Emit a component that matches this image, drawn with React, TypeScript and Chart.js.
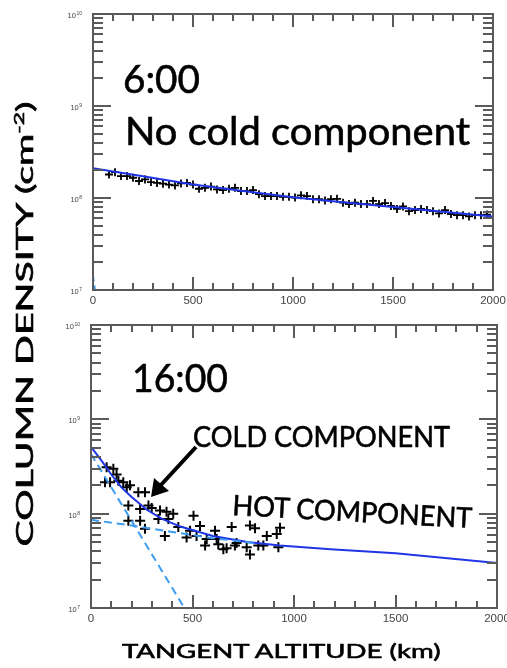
import React, { useEffect, useRef } from "react";
import { Chart, registerables } from "chart.js";
Chart.register(...registerables);

const W = 507;
const H = 668;

// ---------- Top panel (6:00) ----------
const topAltitudes = [
  80, 110, 140, 170, 200, 230, 260, 290, 320, 350, 380, 410, 440, 470, 500, 530,
  560, 590, 620, 650, 680, 710, 740, 770, 800, 830, 860, 890, 920, 950, 980, 1010,
  1040, 1070, 1100, 1130, 1160, 1190, 1220, 1250, 1280, 1310, 1340, 1370, 1400, 1430,
  1460, 1490, 1520, 1550, 1580, 1610, 1640, 1670, 1700, 1730, 1760, 1790, 1820, 1850,
  1880, 1910, 1940, 1970,
];
const topDensities = [
  1.8e8, 1.91e8, 1.73e8, 1.73e8, 1.66e8, 1.53e8, 1.59e8, 1.49e8, 1.46e8, 1.43e8, 1.4e8,
  1.37e8, 1.44e8, 1.46e8, 1.4e8, 1.26e8, 1.29e8, 1.33e8, 1.24e8, 1.22e8, 1.26e8, 1.29e8,
  1.19e8, 1.19e8, 1.22e8, 1.1e8, 1.05e8, 1.05e8, 1.05e8, 1.03e8, 1.03e8, 1.01e8, 1.07e8,
  1.05e8, 0.97e8, 0.97e8, 0.94e8, 0.97e8, 0.98e8, 0.89e8, 0.86e8, 0.89e8, 0.86e8, 0.86e8,
  0.93e8, 0.86e8, 0.88e8, 0.82e8, 0.76e8, 0.81e8, 0.72e8, 0.74e8, 0.76e8, 0.74e8, 0.72e8,
  0.68e8, 0.74e8, 0.67e8, 0.65e8, 0.65e8, 0.63e8, 0.65e8, 0.65e8, 0.66e8,
];
const topFitAltitudes = [0, 250, 500, 750, 1000, 1250, 1500, 1750, 2000];
const topFitDensities = [2.1e8, 1.72e8, 1.4e8, 1.19e8, 1.02e8, 0.9e8, 0.8e8, 0.71e8, 0.63e8];
const topColdAltitudes = [0, 10];
const topColdDensities = [1.4e7, 1.0e7];

// ---------- Bottom panel (16:00) ----------
const bottomAltitudes = [
  77, 110, 69, 94, 135, 159, 126, 192, 176, 233, 266, 184, 242, 283, 299, 184, 242, 266,
  340, 372, 405, 332, 381, 430, 505, 537, 488, 364, 471, 520, 570, 562, 611, 619, 627,
  652, 668, 693, 709, 717, 767, 783, 783, 808, 824, 849, 866, 915, 931, 923,
];
const bottomDensities = [
  3.1e8, 3.0e8, 2.15e8, 2.15e8, 2.24e8, 2.15e8, 2.6e8, 2.0e8, 1.9e8, 1.69e8, 1.69e8,
  1.22e8, 1.12e8, 1.22e8, 1.15e8, 8.4e7, 8.4e7, 6.9e7, 1.08e8, 1.05e8, 1.0e8, 8.8e7,
  8.8e7, 7.2e7, 9.5e7, 7.4e7, 6.6e7, 5.8e7, 5.6e7, 5.8e7, 5.4e7, 4.6e7, 6.6e7, 5.4e7,
  4.75e7, 4.2e7, 4.3e7, 7.2e7, 4.6e7, 4.9e7, 4.4e7, 3.7e7, 7.5e7, 7.0e7, 4.6e7, 4.6e7,
  5.8e7, 6.1e7, 7.1e7, 4.4e7,
];
const bottomFitAltitudes = [0, 50, 100, 150, 200, 275, 350, 440, 600, 770, 930, 1180, 1500, 2000];
const bottomFitDensities = [
  5.1e8, 3.7e8, 2.6e8, 1.9e8, 1.5e8, 1.1e8, 8.8e7, 7.3e7, 5.8e7, 5.0e7, 4.6e7, 4.2e7, 3.8e7, 3.0e7,
];
const coldAltitudes = [0, 460];
const coldDensities = [4.3e8, 1.0e7];
const hotAltitudes = [0, 200, 400, 600, 800];
const hotDensities = [8.6e7, 7.5e7, 6.4e7, 5.5e7, 4.9e7];

// ---------- Axes ----------
const xMin = 0;
const xMax = 2000;
const xMajorTicks = [0, 500, 1000, 1500, 2000];
const xTickLabels = ["0", "500", "1000", "1500", "2000"];
const xMinorTicks = [100, 200, 300, 400, 600, 700, 800, 900, 1100, 1200, 1300, 1400, 1600, 1700, 1800, 1900];
const yDecades = [7, 8, 9, 10];
const yMinorMultipliers = [2, 3, 4, 5, 6, 7, 8, 9];

const FIT_BLUE = "#1f35e6";
const DASH_BLUE = "#3b9cf0";
const AXIS_GRAY = "#5a5a5a";

function drawFrame(chart: any) {
  const ctx: CanvasRenderingContext2D = chart.ctx;
  const ca = chart.chartArea;
  const left = Math.round(ca.left);
  const right = Math.round(ca.right);
  const top = Math.round(ca.top);
  const bottom = Math.round(ca.bottom);
  const xs = chart.scales.x;
  const ys = chart.scales.y;
  ctx.save();
  ctx.setLineDash([]);
  ctx.fillStyle = AXIS_GRAY;
  // frame as filled bars
  ctx.fillRect(left - 1, top - 1, right - left + 2, 2);
  ctx.fillRect(left - 1, bottom - 1, right - left + 2, 2);
  ctx.fillRect(left - 1, top - 1, 2, bottom - top + 2);
  ctx.fillRect(right - 1, top - 1, 2, bottom - top + 2);

  // x ticks: bars pointing inward from bottom and top
  const xTick = (v: number, len: number) => {
    const px = Math.round(xs.getPixelForValue(v));
    ctx.fillRect(px - 1, bottom - len, 2, len);
    ctx.fillRect(px - 1, top, 2, len);
  };
  xMajorTicks.forEach((v) => xTick(v, 13));
  xMinorTicks.forEach((v) => xTick(v, 7));

  // y ticks: bars pointing inward from left and right
  const yTick = (v: number, len: number) => {
    const py = Math.round(ys.getPixelForValue(v));
    ctx.fillRect(left, py - 1, len, 2);
    ctx.fillRect(right - len, py - 1, len, 2);
  };
  yDecades.forEach((d, i) => {
    yTick(Math.pow(10, d), 18);
    if (i < yDecades.length - 1) {
      yMinorMultipliers.forEach((m) => yTick(m * Math.pow(10, d), 10));
    }
  });

  ctx.fillStyle = "#444";
  ctx.font = "11.5px 'Liberation Sans', Arial, sans-serif";
  ctx.textAlign = "center";
  ctx.textBaseline = "alphabetic";
  xMajorTicks.forEach((v, i) => {
    ctx.fillText(xTickLabels[i], xs.getPixelForValue(v), bottom + 14);
  });

  yDecades.forEach((d) => {
    const py = ys.getPixelForValue(Math.pow(10, d));
    const exp = String(d);
    ctx.font = "5px 'Liberation Sans', Arial, sans-serif";
    const expW = ctx.measureText(exp).width;
    const endX = left - 11;
    ctx.textAlign = "left";
    ctx.textBaseline = "alphabetic";
    ctx.fillText(exp, endX - expW, py + 1);
    ctx.font = "7.5px 'Liberation Sans', Arial, sans-serif";
    ctx.textAlign = "right";
    ctx.textBaseline = "middle";
    ctx.fillText("10", endX - expW - 0.5, py + 2);
  });
  ctx.restore();
}

const framePlugin = {
  id: "frameTicks",
  afterDraw(chart: any) {
    drawFrame(chart);
  },
};

function pts(xs: number[], ys: number[]) {
  return xs.map((x, i) => ({ x, y: ys[i] }));
}

function lineDs(xs: number[], ys: number[], color: string, dash: number[]) {
  return {
    data: pts(xs, ys),
    showLine: true,
    borderColor: color,
    borderWidth: 2,
    borderDash: dash,
    pointRadius: 0,
    fill: false,
    tension: 0,
  };
}

function buildConfig(
  padding: { left: number; right: number; top: number; bottom: number },
  markers: { x: number; y: number }[],
  radius: number,
  width: number,
  lines: any[]
): any {
  return {
    type: "scatter",
    data: {
      datasets: [
        ...lines,
        {
          data: markers,
          showLine: false,
          pointStyle: "cross",
          pointRadius: radius,
          pointBorderWidth: width,
          borderColor: "#000",
          backgroundColor: "#000",
        },
      ],
    },
    options: {
      animation: false,
      responsive: false,
      devicePixelRatio: 1,
      events: [],
      layout: { padding },
      plugins: { legend: { display: false }, tooltip: { enabled: false } },
      scales: {
        x: { type: "linear", min: xMin, max: xMax, display: false },
        y: { type: "logarithmic", min: 1e7, max: 1e10, display: false },
      },
    },
    plugins: [framePlugin],
  };
}

export default function App() {
  const topRef = useRef<HTMLCanvasElement>(null);
  const botRef = useRef<HTMLCanvasElement>(null);

  useEffect(() => {
    const top = new Chart(
      topRef.current!,
      buildConfig(
        { left: 93, right: W - 493, top: 14, bottom: H - 290 },
        pts(topAltitudes, topDensities),
        4,
        1.8,
        [
          lineDs(topFitAltitudes, topFitDensities, FIT_BLUE, []),
          lineDs(topColdAltitudes, topColdDensities, DASH_BLUE, [5, 4]),
        ]
      )
    );
    const bot = new Chart(
      botRef.current!,
      buildConfig(
        { left: 91, right: W - 497, top: 325, bottom: H - 608 },
        pts(bottomAltitudes, bottomDensities),
        5,
        2,
        [
          lineDs(coldAltitudes, coldDensities, DASH_BLUE, [8, 5]),
          lineDs(hotAltitudes, hotDensities, DASH_BLUE, [8, 5]),
          lineDs(bottomFitAltitudes, bottomFitDensities, FIT_BLUE, []),
        ]
      )
    );
    return () => {
      top.destroy();
      bot.destroy();
    };
  }, []);

  const font = "Lato, 'Open Sans', sans-serif";
  const heavy = { stroke: "#000", strokeWidth: 0.6 };
  return (
    <div style={{ position: "absolute", left: 0, top: 0, width: W, height: H, background: "#fff", overflow: "hidden" }}>
      <canvas ref={topRef} width={W} height={H} style={{ position: "absolute", left: 0, top: 0 }} />
      <canvas ref={botRef} width={W} height={H} style={{ position: "absolute", left: 0, top: 0 }} />
      <svg width={W} height={H} style={{ position: "absolute", left: 0, top: 0 }} fontFamily={font}>
        <text x={123} y={93} fontSize={39} textLength={77} lengthAdjust="spacingAndGlyphs" fill="#000" {...heavy}>6:00</text>
        <text x={125} y={145} fontSize={39} textLength={345} lengthAdjust="spacingAndGlyphs" fill="#000" {...heavy}>No cold component</text>
        <text x={132} y={392} fontSize={39} textLength={96} lengthAdjust="spacingAndGlyphs" fill="#000" {...heavy}>16:00</text>
        <text x={193} y={447} fontSize={28} textLength={257} lengthAdjust="spacingAndGlyphs" fill="#000" {...heavy}>COLD COMPONENT</text>
        <text x={232} y={515} fontSize={28} textLength={240} lengthAdjust="spacingAndGlyphs" fill="#000" transform="rotate(3.1 232 515)" {...heavy}>HOT COMPONENT</text>
        <line x1={196} y1={447} x2={160} y2={486} stroke="#000" strokeWidth={4} />
        <polygon points="151,497 154,478 169,491" fill="#000" />
        <g transform="translate(33 324) rotate(-90) scale(1.55 1)">
          <text x={0} y={0} textAnchor="middle" fontSize={24} textLength={287} lengthAdjust="spacingAndGlyphs" fill="#000" {...heavy}>
            COLUMN DENSITY (cm<tspan dy={-9} fontSize={14}>-2</tspan><tspan dy={9}>)</tspan>
          </text>
        </g>
        <g transform="translate(122 658) scale(1.3 1)">
          <text x={0} y={0} fontSize={20} textLength={245} lengthAdjust="spacingAndGlyphs" fill="#000" {...heavy}>TANGENT ALTITUDE (km)</text>
        </g>
      </svg>
    </div>
  );
}
